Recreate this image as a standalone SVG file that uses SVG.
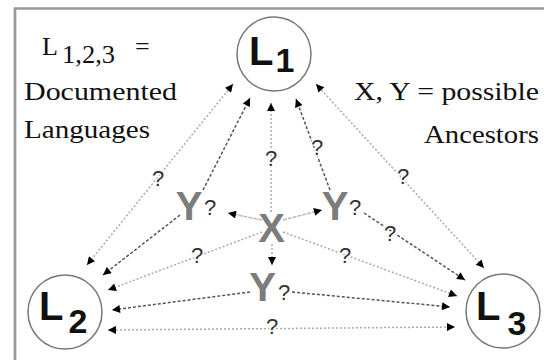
<svg xmlns="http://www.w3.org/2000/svg" width="544" height="360" viewBox="0 0 544 360">
<style>
.circ{fill:#fff;stroke:#777;stroke-width:1.5}
.lbl{font-family:"Liberation Sans",Arial,sans-serif;font-weight:bold;fill:#111}
.anc{font-family:"Liberation Sans",Arial,sans-serif;font-weight:bold;fill:#7c7c7c;font-size:40px;text-anchor:middle}
.q{font-family:"Liberation Sans",Arial,sans-serif;font-size:22px;fill:#333}
.qm{font-family:"Liberation Sans",Arial,sans-serif;font-size:22px;fill:#333;text-anchor:middle;stroke:#fff;stroke-width:3;paint-order:stroke}
.leg{font-family:"Liberation Serif","Times New Roman",serif;font-size:26px;fill:#111}
.light{fill:none;stroke:#aaa;stroke-width:1.5;stroke-dasharray:2 2}
.dark{fill:none;stroke:#555;stroke-width:1.5;stroke-dasharray:3 2}
.xy{fill:none;stroke:#bbb;stroke-width:1.6;stroke-dasharray:4 1}
</style>
<defs>
<marker id="ah" viewBox="0 0 10 10" refX="10" refY="5" markerWidth="9" markerHeight="8" markerUnits="userSpaceOnUse" orient="auto-start-reverse">
<path d="M0,0 L10,5 L0,10 z" fill="#000"/>
</marker>
</defs>
<rect width="544" height="360" fill="#fff"/>
<path d="M15,360 V8.5 H544" fill="none" stroke="#9a9a9a" stroke-width="2.7"/>

<g id="legend">
<text class="leg" x="42" y="55">L</text>
<text class="leg" x="62" y="63" font-size="23" textLength="53" lengthAdjust="spacingAndGlyphs">1,2,3</text>
<text class="leg" x="135" y="55">=</text>
<text class="leg" x="24" y="100" textLength="153" lengthAdjust="spacingAndGlyphs">Documented</text>
<text class="leg" x="24" y="138" textLength="126" lengthAdjust="spacingAndGlyphs">Languages</text>
<text class="leg" x="354" y="100" textLength="185" lengthAdjust="spacingAndGlyphs">X, Y = possible</text>
<text class="leg" x="424" y="143" textLength="115" lengthAdjust="spacingAndGlyphs">Ancestors</text>
</g>

<g id="connectors">
<!-- outer L-L lines -->
<line class="light" x1="233" y1="84" x2="87" y2="265" marker-start="url(#ah)" marker-end="url(#ah)"/>
<line class="light" x1="316" y1="84" x2="484" y2="268" marker-start="url(#ah)" marker-end="url(#ah)"/>
<line class="light" x1="108" y1="330" x2="455" y2="327" marker-start="url(#ah)" marker-end="url(#ah)"/>
<!-- X to L -->
<line class="light" x1="271" y1="212" x2="271" y2="103" marker-end="url(#ah)"/>
<line class="light" x1="262" y1="232" x2="108" y2="290" marker-end="url(#ah)"/>
<line class="light" x1="283" y1="232" x2="457" y2="296" marker-end="url(#ah)"/>
<!-- X to Y -->
<line class="xy" x1="262" y1="220" x2="228" y2="213" marker-end="url(#ah)"/>
<line class="xy" x1="283" y1="220" x2="322" y2="210" marker-end="url(#ah)"/>
<line class="light" x1="272" y1="244" x2="272" y2="265" marker-end="url(#ah)"/>
<!-- Y to L -->
<line class="dark" x1="203" y1="190" x2="250" y2="98" marker-end="url(#ah)"/>
<line class="dark" x1="330" y1="190" x2="296" y2="99" marker-end="url(#ah)"/>
<line class="dark" x1="180" y1="215" x2="103" y2="275" marker-end="url(#ah)"/>
<line class="dark" x1="364" y1="213" x2="465" y2="280" marker-end="url(#ah)"/>
<line class="dark" x1="250" y1="292" x2="112" y2="310" marker-end="url(#ah)"/>
<line class="dark" x1="292" y1="292" x2="450" y2="307" marker-end="url(#ah)"/>
<!-- labels -->
<text class="qm" x="158" y="186">?</text>
<text class="qm" x="403" y="184">?</text>
<text class="qm" x="271" y="166">?</text>
<text class="qm" x="317" y="155">?</text>
<text class="qm" x="390" y="241">?</text>
<text class="qm" x="197" y="263">?</text>
<text class="qm" x="345" y="263">?</text>
<text class="qm" x="272" y="334">?</text>
</g>

<g id="L1">
<circle class="circ" cx="274" cy="54" r="37"/>
<text class="lbl" x="249" y="65" font-size="40">L</text>
<text class="lbl" x="285" y="72" font-size="34" text-anchor="middle">1</text>
</g>
<g id="L2">
<circle class="circ" cx="65" cy="312" r="37"/>
<text class="lbl" x="39" y="320" font-size="40">L</text>
<text class="lbl" x="78" y="333" font-size="34" text-anchor="middle">2</text>
</g>
<g id="L3">
<circle class="circ" cx="503" cy="311" r="37"/>
<text class="lbl" x="476" y="320" font-size="40">L</text>
<text class="lbl" x="517" y="335" font-size="34" text-anchor="middle">3</text>
</g>
<g id="X">
<text class="anc" x="271.5" y="242">X</text>
</g>
<g id="Y1">
<text class="anc" x="189" y="220">Y</text>
<text class="q" x="204" y="215">?</text>
</g>
<g id="Y2">
<text class="anc" x="335" y="220">Y</text>
<text class="q" x="349" y="215">?</text>
</g>
<g id="Y3">
<text class="anc" x="262.5" y="301">Y</text>
<text class="q" x="278" y="300">?</text>
</g>
</svg>
